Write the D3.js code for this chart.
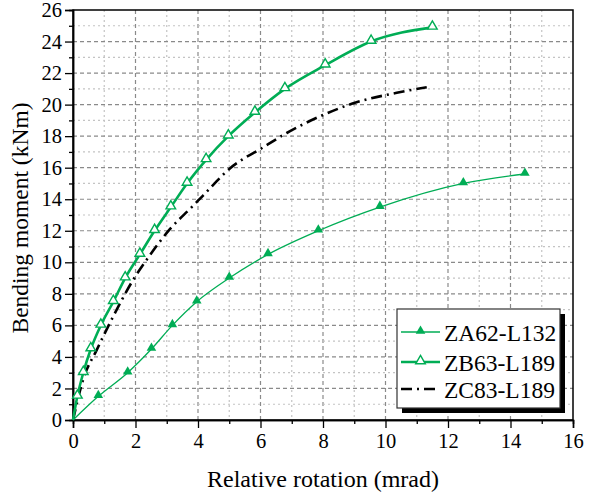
<!DOCTYPE html>
<html>
<head>
<meta charset="utf-8">
<script src="https://cdn.jsdelivr.net/npm/d3@7"></script>
<style>
  body { margin: 0; background: #fff; }
</style>
</head>
<body>
<svg width="592" height="495" font-family="Liberation Serif"></svg>
<script>
// data (x = rotation in mrad, y = moment in kNm)
const za62X = [0, 0.81, 1.75, 2.51, 3.18, 3.96, 5.0, 6.24, 7.85, 9.82, 12.49, 14.46];
const za62Y = [0, 1.5, 3.0, 4.5, 6.0, 7.5, 9.0, 10.5, 12.0, 13.5, 15.0, 15.6];

const zb63X = [0, 0.14, 0.33, 0.57, 0.89, 1.29, 1.67, 2.14, 2.61, 3.13, 3.65, 4.26, 4.97, 5.82, 6.78, 8.07, 9.54, 11.5];
const zb63Y = [0, 1.5, 3.0, 4.5, 6.0, 7.5, 9.0, 10.5, 12.0, 13.5, 15.0, 16.5, 18.0, 19.5, 21.0, 22.5, 24.0, 24.9];

const zc83X = [0, 0.33, 0.76, 1.18, 1.93, 2.46, 3.1, 3.8, 4.17, 5.02, 6.09, 6.84, 8.01, 8.92, 10.36, 11.32];
const zc83Y = [0, 2.6, 4.45, 6.15, 8.9, 10.45, 12.1, 13.5, 14.25, 15.95, 17.3, 18.2, 19.35, 20.05, 20.75, 21.1];

const seriesNames = ["ZA62-L132", "ZB63-L189", "ZC83-L189"];
const xTicks = d3.range(0, 17, 2);
const yTicks = d3.range(0, 27, 2);

const FONT = "Liberation Serif";
const svg = d3.select("svg");
const mL = 73, mR = 573, mT = 10, mB = 420;
const green = "#00ad55";

const x = d3.scaleLinear().domain([0, 16]).range([mL, mR]);
const y = d3.scaleLinear().domain([0, 26]).range([mB, mT]);

// grid: dashed on even values, dotted on odd
const grid = svg.append("g");
d3.range(1, 16).forEach(v => {
  grid.append("line")
    .attr("x1", x(v)).attr("x2", x(v)).attr("y1", mT).attr("y2", mB)
    .attr("stroke", v % 2 ? "#c4c4c4" : "#8a8a8a")
    .attr("stroke-width", 1.2)
    .attr("stroke-dasharray", v % 2 ? "2,3" : "4,3");
});
d3.range(1, 26).forEach(v => {
  grid.append("line")
    .attr("y1", y(v)).attr("y2", y(v)).attr("x1", mL).attr("x2", mR)
    .attr("stroke", v % 2 ? "#c4c4c4" : "#8a8a8a")
    .attr("stroke-width", 1.2)
    .attr("stroke-dasharray", v % 2 ? "2,3" : "4,3");
});

// frame
svg.append("rect")
  .attr("x", mL).attr("y", mT)
  .attr("width", mR - mL).attr("height", mB - mT)
  .attr("fill", "none").attr("stroke", "#000").attr("stroke-width", 1.5);

// axes
svg.append("g")
  .attr("transform", `translate(0,${mB})`)
  .call(d3.axisBottom(x).tickValues(xTicks).tickSize(8).tickPadding(5).tickFormat(d3.format("d")));
svg.append("g")
  .attr("transform", `translate(0,${mB})`)
  .call(d3.axisBottom(x).tickValues(d3.range(1, 16, 2)).tickSize(4).tickFormat(""));
svg.append("g")
  .attr("transform", `translate(${mL},0)`)
  .call(d3.axisLeft(y).tickValues(yTicks).tickSize(8).tickPadding(3).tickFormat(d3.format("d")));
svg.append("g")
  .attr("transform", `translate(${mL},0)`)
  .call(d3.axisLeft(y).tickValues(d3.range(1, 26, 2)).tickSize(4).tickFormat(""));

svg.selectAll("g").attr("font-family", FONT).attr("font-size", 20);
svg.selectAll(".domain").attr("stroke", "#000").attr("stroke-width", 1.5);
svg.selectAll(".tick line").attr("stroke", "#000").attr("stroke-width", 1.3);
svg.selectAll(".tick text").attr("font-family", FONT).attr("font-size", 20.5).attr("fill", "#000");

// titles
svg.append("text")
  .attr("x", (mL + mR) / 2).attr("y", 487)
  .attr("text-anchor", "middle").attr("font-size", 24).attr("font-family", FONT)
  .text("Relative rotation (mrad)");
svg.append("text")
  .attr("transform", `translate(28,${(mT + mB) / 2 + 3}) rotate(-90)`)
  .attr("text-anchor", "middle").attr("font-size", 23.5).attr("font-family", FONT)
  .text("Bending moment (kNm)");

const line = d3.line().x(d => x(d[0])).y(d => y(d[1])).curve(d3.curveMonotoneX);
const tri = d3.symbol().type(d3.symbolTriangle).size(40);

// ZC83 dash-dot
const zc = d3.zip(zc83X, zc83Y);
svg.append("path").datum(zc)
  .attr("d", line).attr("fill", "none")
  .attr("stroke", "#000").attr("stroke-width", 2.6)
  .attr("stroke-dasharray", "11,5,2,5");

// ZA62 thin with filled triangles
const za = d3.zip(za62X, za62Y);
svg.append("path").datum(za)
  .attr("d", line).attr("fill", "none")
  .attr("stroke", green).attr("stroke-width", 1.3);
svg.selectAll(".za").data(za.slice(1)).join("path")
  .attr("class", "za")
  .attr("transform", d => `translate(${x(d[0])},${y(d[1]) - 1})`)
  .attr("d", tri).attr("fill", green);

// ZB63 thick with open triangles
const zb = d3.zip(zb63X, zb63Y);
svg.append("path").datum(zb)
  .attr("d", line).attr("fill", "none")
  .attr("stroke", green).attr("stroke-width", 2.6);
svg.selectAll(".zb").data(zb.slice(1)).join("path")
  .attr("class", "zb")
  .attr("transform", d => `translate(${x(d[0])},${y(d[1]) - 1})`)
  .attr("d", tri).attr("fill", "#fff").attr("stroke", green).attr("stroke-width", 1.4);

// legend
const lg = svg.append("g").attr("transform", "translate(397,309)");
const lw = 163, lh = 99;
lg.append("rect").attr("x", 5).attr("y", 5).attr("width", lw).attr("height", lh).attr("fill", "#000");
lg.append("rect").attr("width", lw).attr("height", lh).attr("fill", "#fff")
  .attr("stroke", "#333").attr("stroke-width", 1.2);
const rowY = [23, 53, 80];
seriesNames.forEach((name, i) => {
  const g = lg.append("g").attr("transform", `translate(0,${rowY[i]})`);
  const l = g.append("line").attr("x1", 4).attr("x2", 43).attr("y1", 0).attr("y2", 0);
  if (i === 0) {
    l.attr("stroke", green).attr("stroke-width", 1.3);
    g.append("path").attr("transform", "translate(23.5,-1)").attr("d", tri).attr("fill", green);
  } else if (i === 1) {
    l.attr("stroke", green).attr("stroke-width", 2.6);
    g.append("path").attr("transform", "translate(23.5,-1)").attr("d", tri)
      .attr("fill", "#fff").attr("stroke", green).attr("stroke-width", 1.4);
  } else {
    l.attr("stroke", "#000").attr("stroke-width", 2.6).attr("stroke-dasharray", "11,5,2,5");
  }
  g.append("text").attr("x", 47).attr("y", 8.5)
    .attr("font-size", 23.5).attr("font-family", FONT).text(name);
});
</script>
</body>
</html>
